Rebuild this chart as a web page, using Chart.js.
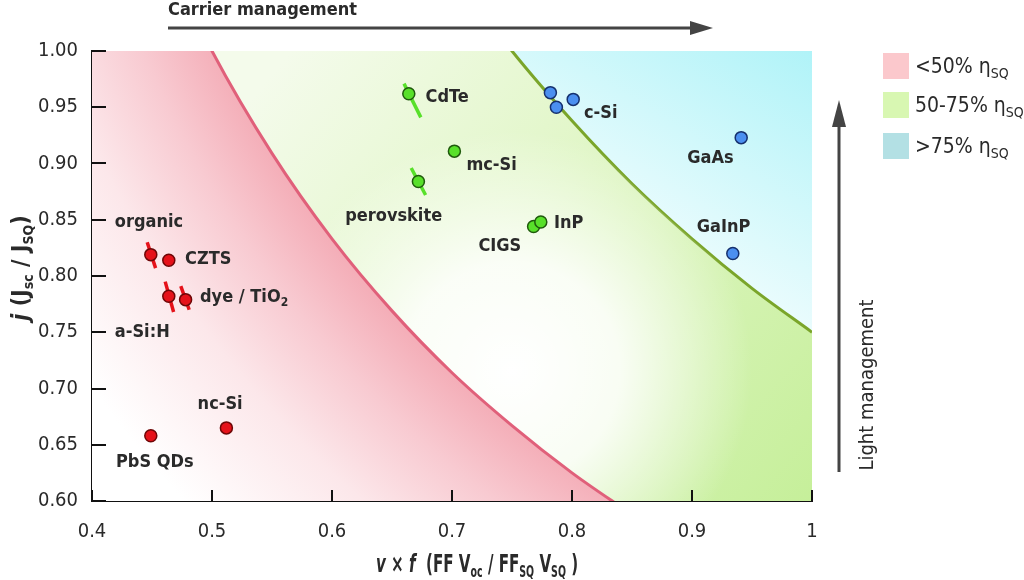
<!DOCTYPE html>
<html>
<head>
<meta charset="utf-8">
<script src="https://cdn.jsdelivr.net/npm/chart.js@4.4.1/dist/chart.umd.min.js"></script>
<style>
html, body { margin: 0; padding: 0; background: #fff; }
</style>
</head>
<body>
<canvas id="mycanvas" width="1024" height="580"></canvas>
<script>
// device points
var redNames = ['organic', 'CZTS', 'a-Si:H', 'dye / TiO2', 'PbS QDs', 'nc-Si'];
var redX = [0.449, 0.464, 0.464, 0.478, 0.449, 0.512];
var redY = [0.819, 0.814, 0.782, 0.779, 0.658, 0.665];

var greenNames = ['CdTe', 'mc-Si', 'perovskite', 'CIGS', 'InP'];
var greenX = [0.664, 0.702, 0.672, 0.768, 0.774];
var greenY = [0.962, 0.911, 0.884, 0.844, 0.848];

var blueNames = ['c-Si', 'c-Si', 'c-Si', 'GaAs', 'GaInP'];
var blueX = [0.782, 0.787, 0.801, 0.941, 0.934];
var blueY = [0.963, 0.950, 0.957, 0.923, 0.820];

// spread bars (organic, a-Si:H, dye, CdTe, perovskite)
var errX1 = [0.446, 0.461, 0.474, 0.660, 0.666];
var errY1 = [0.830, 0.795, 0.791, 0.971, 0.896];
var errX2 = [0.453, 0.468, 0.481, 0.674, 0.678];
var errY2 = [0.807, 0.768, 0.770, 0.941, 0.872];
var errGroup = ['red', 'red', 'red', 'green', 'green'];

// 50% and 75% efficiency boundaries
var lowX = [0.40, 0.45, 0.50, 0.55, 0.60, 0.65, 0.70, 0.75, 0.80, 0.85];
var lowY = [1.250, 1.111, 1.000, 0.909, 0.833, 0.769, 0.714, 0.667, 0.625, 0.588];
var highX = [0.50, 0.55, 0.60, 0.65, 0.70, 0.75, 0.80, 0.85, 0.90, 0.95, 1.00];
var highY = [1.500, 1.364, 1.250, 1.154, 1.071, 1.000, 0.938, 0.882, 0.833, 0.789, 0.750];

// text labels placed in data units (left edge, middle)
var labelText = ['organic', 'CZTS', 'dye / TiO|2', 'a-Si:H', 'nc-Si', 'PbS QDs', 'CdTe', 'mc-Si', 'perovskite', 'CIGS', 'InP', 'c-Si', 'GaAs', 'GaInP'];
var labelX = [0.419, 0.4775, 0.490, 0.419, 0.488, 0.420, 0.678, 0.712, 0.611, 0.722, 0.785, 0.810, 0.896, 0.904];
var labelY = [0.848, 0.815, 0.781, 0.750, 0.686, 0.634, 0.959, 0.898, 0.853, 0.826, 0.847, 0.945, 0.905, 0.843];

var xTicks = [0.4, 0.5, 0.6, 0.7, 0.8, 0.9, 1.0];
var yTicks = [0.60, 0.65, 0.70, 0.75, 0.80, 0.85, 0.90, 0.95, 1.00];

var legendText = ['<50% ', '50-75% ', '>75% '];
var legendColor = ['#fbc8cc', '#d8f7b2', '#b3e0e4'];

var FAM = "'Liberation Sans Narrow', 'DejaVu Sans Condensed', 'Liberation Sans', sans-serif";
var INK = '#2a2a2a';

function pts(xs, ys) {
    var out = [];
    for (var i = 0; i < xs.length; i++) out.push({x: xs[i], y: ys[i]});
    return out;
}

function linGrad(ctx, x0, y0, x1, y1, stops) {
    var g = ctx.createLinearGradient(x0, y0, x1, y1);
    stops.forEach(function(s) { g.addColorStop(s[0], s[1]); });
    return g;
}

function radGrad(ctx, cx, cy, r0, r1, stops) {
    var g = ctx.createRadialGradient(cx, cy, r0, cx, cy, r1);
    stops.forEach(function(s) { g.addColorStop(s[0], s[1]); });
    return g;
}

function drawRich(ctx, parts, x, y, align) {
    var w = 0;
    parts.forEach(function(p) { ctx.font = p.f; w += ctx.measureText(p.t).width; });
    var cx = align === 'center' ? x - w / 2 : x;
    ctx.textAlign = 'left';
    parts.forEach(function(p) {
        ctx.font = p.f;
        ctx.fillText(p.t, cx, y + (p.dy || 0));
        cx += ctx.measureText(p.t).width;
    });
}

var decor = {
    id: 'decor',
    afterDatasetsDraw: function(chart) {
        var ctx = chart.ctx, xs = chart.scales.x, ys = chart.scales.y, a = chart.chartArea;
        ctx.save();
        // inward ticks
        ctx.strokeStyle = '#111';
        ctx.lineWidth = 2;
        xTicks.forEach(function(v) {
            var px = Math.round(xs.getPixelForValue(v));
            ctx.beginPath(); ctx.moveTo(px, a.bottom); ctx.lineTo(px, a.bottom - 11); ctx.stroke();
        });
        yTicks.forEach(function(v) {
            var py = Math.round(ys.getPixelForValue(v));
            ctx.beginPath(); ctx.moveTo(a.left, py); ctx.lineTo(a.left + 14, py); ctx.stroke();
        });

        // point labels
        ctx.fillStyle = INK;
        ctx.textBaseline = 'middle';
        var lf = 'bold 18px ' + FAM, sf = 'bold 12px ' + FAM;
        labelText.forEach(function(t, i) {
            var px = xs.getPixelForValue(labelX[i]), py = ys.getPixelForValue(labelY[i]);
            var bits = t.split('|');
            var parts = [{t: bits[0], f: lf}];
            if (bits[1]) parts.push({t: bits[1], f: sf, dy: 5});
            drawRich(ctx, parts, px, py, 'left');
        });

        // axis titles
        ctx.textBaseline = 'alphabetic';
        var tf = 'bold 24px ' + FAM, ti = 'italic bold 24px ' + FAM, ts = 'bold 15px ' + FAM;
        ctx.save();
        ctx.translate(477, 572);
        ctx.scale(0.7, 1);
        drawRich(ctx, [
            {t: 'v', f: ti}, {t: ' × ', f: tf}, {t: 'f', f: ti}, {t: '  (FF V', f: tf},
            {t: 'oc', f: ts, dy: 5}, {t: ' / FF', f: tf}, {t: 'SQ', f: ts, dy: 5},
            {t: ' V', f: tf}, {t: 'SQ', f: ts, dy: 5}, {t: ' )', f: tf}
        ], 0, 0, 'center');
        ctx.restore();

        var yf = 'bold 23px ' + FAM, yi = 'italic bold 23px ' + FAM, ysb = 'bold 14px ' + FAM;
        ctx.save();
        ctx.translate(28, 268);
        ctx.rotate(-Math.PI / 2);
        drawRich(ctx, [
            {t: 'j', f: yi}, {t: ' (J', f: yf}, {t: 'sc', f: ysb, dy: 5},
            {t: ' / J', f: yf}, {t: 'SQ', f: ysb, dy: 5}, {t: ')', f: yf}
        ], 0, 0, 'center');
        ctx.restore();

        // carrier management arrow
        ctx.strokeStyle = '#444';
        ctx.lineWidth = 3;
        ctx.font = 'bold 18px ' + FAM;
        ctx.textBaseline = 'middle';
        ctx.textAlign = 'left';
        ctx.fillStyle = INK;
        ctx.fillText('Carrier management', 168, 10);
        ctx.fillStyle = '#444';
        ctx.beginPath(); ctx.moveTo(168, 28); ctx.lineTo(696, 28); ctx.stroke();
        ctx.beginPath(); ctx.moveTo(713, 28); ctx.lineTo(690, 21); ctx.lineTo(690, 35); ctx.closePath(); ctx.fill();

        // light management arrow
        ctx.beginPath(); ctx.moveTo(839, 472); ctx.lineTo(839, 118); ctx.stroke();
        ctx.beginPath(); ctx.moveTo(839, 100); ctx.lineTo(832, 127); ctx.lineTo(846, 127); ctx.closePath(); ctx.fill();
        ctx.save();
        ctx.translate(868, 385);
        ctx.rotate(-Math.PI / 2);
        ctx.textAlign = 'center';
        ctx.fillStyle = INK;
        ctx.font = '20px ' + FAM;
        ctx.fillText('Light management', 0, 0);
        ctx.restore();

        // legend
        var rows = [53, 92, 133];
        var gf = '21px ' + FAM, gs = '14px ' + FAM;
        rows.forEach(function(top, i) {
            ctx.fillStyle = legendColor[i];
            ctx.fillRect(883, top, 26, 26);
            ctx.fillStyle = INK;
            ctx.textBaseline = 'alphabetic';
            drawRich(ctx, [{t: legendText[i], f: gf}, {t: 'η', f: gf}, {t: 'SQ', f: gs, dy: 5}], 915, top + 20, 'left');
        });
        ctx.restore();
    }
};

var datasets = [];
var dot = function(label, xs, ys, fill, edge) {
    return {
        type: 'scatter', label: label, data: pts(xs, ys),
        pointRadius: 6, pointHoverRadius: 6, pointBorderWidth: 1.5,
        backgroundColor: fill, borderColor: edge, pointBackgroundColor: fill, pointBorderColor: edge
    };
};
datasets.push(dot('blue', blueX, blueY, '#4b8ff0', '#15306e'));
datasets.push(dot('green', greenX, greenY, '#58e02a', '#1f5a0c'));
datasets.push(dot('red', redX, redY, '#e5121a', '#6e0606'));
for (var i = 0; i < errX1.length; i++) {
    datasets.push({
        type: 'line', label: 'err' + i,
        data: [{x: errX1[i], y: errY1[i]}, {x: errX2[i], y: errY2[i]}],
        borderColor: errGroup[i] === 'red' ? '#e5121a' : '#58e02a',
        borderWidth: 3.5, pointRadius: 0, fill: false
    });
}
// <50% band: pink, strongest along the boundary
datasets.push({
    type: 'line', label: '50%', data: pts(lowX, lowY),
    borderColor: '#e0607a', borderWidth: 3, pointRadius: 0,
    cubicInterpolationMode: 'monotone', fill: 'start',
    backgroundColor: function(c) {
        var a = c.chart.chartArea;
        if (!a) return '#fde4e8';
        return radGrad(c.chart.ctx, a.left + 1026, a.top - 403, 985, 1265,
            [[0, '#f4aeb8'], [0.25, '#f8cad1'], [0.55, '#fce7ea'], [1, '#ffffff']]);
    }
});
// whitish glow next to the 50% boundary
datasets.push({
    type: 'line', label: 'glow', data: pts(highX, highY),
    borderWidth: 0, borderColor: 'rgba(0,0,0,0)', pointRadius: 0,
    cubicInterpolationMode: 'monotone', fill: 'start',
    backgroundColor: function(c) {
        var a = c.chart.chartArea;
        if (!a) return 'rgba(255,255,255,0)';
        return radGrad(c.chart.ctx, a.left + 420, a.top + 320, 0, 240,
            [[0, 'rgba(255,255,255,1)'], [0.45, 'rgba(255,255,255,0.85)'], [1, 'rgba(255,255,255,0)']]);
    }
});
// 50-75% band
datasets.push({
    type: 'line', label: '75%', data: pts(highX, highY),
    borderColor: '#7aa52a', borderWidth: 3, pointRadius: 0,
    cubicInterpolationMode: 'monotone', fill: 'start',
    backgroundColor: function(c) {
        var a = c.chart.chartArea;
        if (!a) return '#e4f8cc';
        return linGrad(c.chart.ctx, a.left + 200, a.top, a.right, a.bottom,
            [[0, '#f4fbeb'], [0.35, '#e4f7cd'], [1, '#c6ef9a']]);
    }
});
// >75% band
datasets.push({
    type: 'line', label: 'top', data: pts(highX, highY),
    borderWidth: 0, borderColor: 'rgba(0,0,0,0)', pointRadius: 0,
    cubicInterpolationMode: 'monotone', fill: 'end',
    backgroundColor: function(c) {
        var a = c.chart.chartArea;
        if (!a) return '#e0f8fb';
        return linGrad(c.chart.ctx, a.right, a.top, a.left + 0.76 * a.width, a.top + 0.62 * a.height,
            [[0, '#b0f3f8'], [1, '#ffffff']]);
    }
});

var tickFont = {family: FAM, size: 20};
new Chart(document.getElementById('mycanvas'), {
    type: 'scatter',
    data: {datasets: datasets},
    options: {
        responsive: false,
        animation: false,
        events: [],
        layout: {padding: {left: 0, top: 51, right: 212, bottom: 0}},
        plugins: {legend: {display: false}, tooltip: {enabled: false}},
        scales: {
            x: {
                type: 'linear', min: 0.4, max: 1.0,
                afterFit: function(s) { s.height = 79; },
                grid: {display: true, drawOnChartArea: false, drawTicks: false, color: 'rgba(0,0,0,0)'},
                border: {display: true, color: '#111', width: 2},
                ticks: {
                    stepSize: 0.1, padding: 19, color: INK, font: tickFont,
                    callback: function(v) { return Math.abs(v - 1) < 1e-9 ? '1' : v.toFixed(1); }
                }
            },
            y: {
                type: 'linear', min: 0.6, max: 1.0,
                afterFit: function(s) { s.width = 92; },
                grid: {display: true, drawOnChartArea: false, drawTicks: false, color: 'rgba(0,0,0,0)'},
                border: {display: true, color: '#111', width: 2},
                ticks: {
                    stepSize: 0.05, padding: 14, color: INK, font: tickFont,
                    callback: function(v) { return v.toFixed(2); }
                }
            }
        }
    },
    plugins: [decor]
});
</script>
</body>
</html>
